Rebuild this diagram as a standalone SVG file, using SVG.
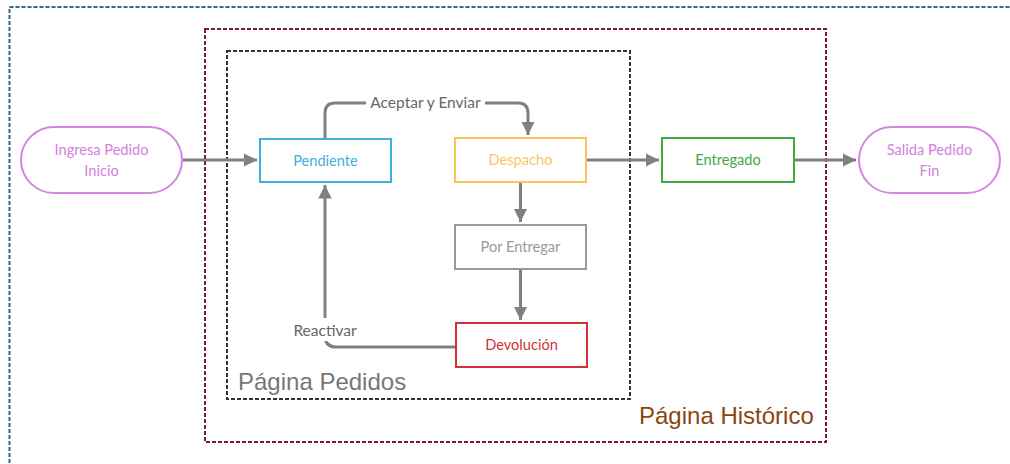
<svg xmlns="http://www.w3.org/2000/svg" width="1010" height="464" viewBox="0 0 1010 464">
<style>
.frame{fill:none;stroke-width:2;stroke-dasharray:4 2}
.node{fill:#fff;stroke-width:2}
.pill{fill:#fff;stroke:#d585e2;stroke-width:2}
.t{font-family:Lato,"Open Sans","Liberation Sans",sans-serif;font-size:14.6px;text-anchor:middle}
.big{font-family:"Liberation Sans",Arial,sans-serif;font-size:24px}
.conn{fill:none;stroke:#808080;stroke-width:3}
.lbl{font-family:Lato,"Open Sans","Liberation Sans",sans-serif;font-size:15.5px;fill:#666}
</style>
<defs>
<marker id="arr" viewBox="0 0 10 10" refX="10" refY="5" markerWidth="4.5" markerHeight="4.5" markerUnits="strokeWidth" orient="auto">
<path d="M0,0 L10,5 L0,10 Z" fill="#808080"/>
</marker>
</defs>
<rect width="1010" height="464" fill="#fff"/>
<g id="frames">
<rect class="frame" x="9.5" y="7" width="1020" height="480" stroke="#2b6a8c"/>
<rect class="frame" x="205" y="29" width="621" height="413" stroke="#7a1a3c"/>
<rect class="frame" x="227" y="51" width="403" height="348" stroke="#333"/>
<text class="big" x="238" y="390" fill="#777">Página Pedidos</text>
<text class="big" x="639" y="424" fill="#8b4513">Página Histórico</text>
</g>
<g id="connectors">
<path class="conn" d="M182,160 H257" marker-end="url(#arr)"/>
<path class="conn" d="M325,139 V113 Q325,103 335,103 H518 Q528,103 528,113 V135" marker-end="url(#arr)"/>
<rect x="366" y="92" width="119" height="20" fill="#fff"/>
<text class="lbl" x="425.5" y="108" text-anchor="middle">Aceptar y Enviar</text>
<path class="conn" d="M586,160 H659" marker-end="url(#arr)"/>
<path class="conn" d="M794,160 H856" marker-end="url(#arr)"/>
<path class="conn" d="M520.5,182 V222" marker-end="url(#arr)"/>
<path class="conn" d="M520.5,269 V320" marker-end="url(#arr)"/>
<path class="conn" d="M456,347 H336 Q326,347 325,337 V185" marker-end="url(#arr)"/>
<rect x="289" y="318" width="72" height="23" fill="#fff"/>
<text class="lbl" x="325" y="336" text-anchor="middle">Reactivar</text>
</g>
<g id="ingresa">
<rect class="pill" x="21" y="127" width="161" height="66" rx="33" ry="33"/>
<text class="t" x="101.5" y="155" fill="#d580e0">Ingresa Pedido</text>
<text class="t" x="101.5" y="176" fill="#d580e0">Inicio</text>
</g>
<g id="pendiente">
<rect class="node" x="260" y="139" width="131" height="43" stroke="#3eb0de"/>
<text class="t" x="325.5" y="165.5" fill="#3eb0de">Pendiente</text>
</g>
<g id="despacho">
<rect class="node" x="455" y="138" width="131" height="44" stroke="#f9c65a"/>
<text class="t" x="520.5" y="165" fill="#f9c65a">Despacho</text>
</g>
<g id="entregado">
<rect class="node" x="662" y="138" width="132" height="44" stroke="#44a845"/>
<text class="t" x="728" y="165" fill="#44a845">Entregado</text>
</g>
<g id="salida">
<rect class="pill" x="859" y="127" width="141" height="66" rx="33" ry="33"/>
<text class="t" x="929.5" y="155" fill="#d580e0">Salida Pedido</text>
<text class="t" x="929.5" y="176" fill="#d580e0">Fin</text>
</g>
<g id="porentregar">
<rect class="node" x="455" y="225" width="131" height="44" stroke="#999"/>
<text class="t" x="520.5" y="252" fill="#999">Por Entregar</text>
</g>
<g id="devolucion">
<rect class="node" x="456" y="323" width="131" height="44" stroke="#d3303c"/>
<text class="t" x="521.5" y="350" fill="#d3303c">Devolución</text>
</g>
</svg>
